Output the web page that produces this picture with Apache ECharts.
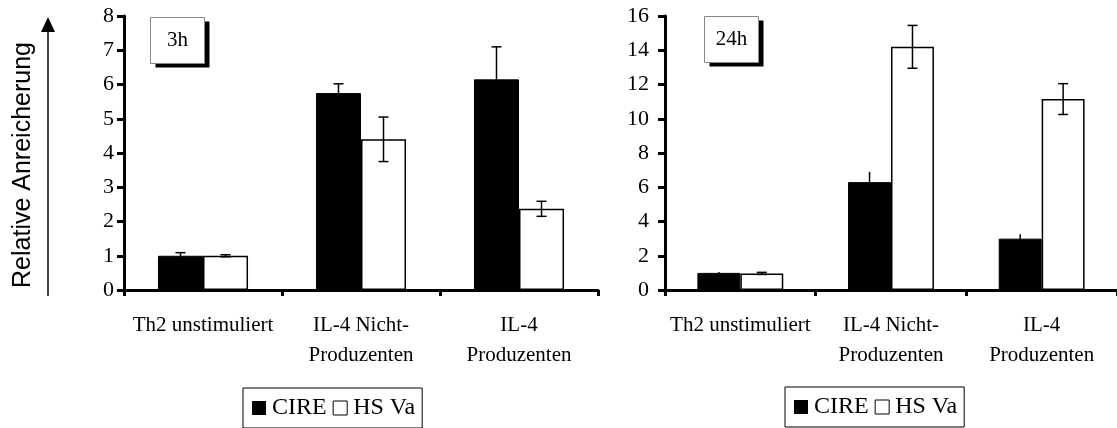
<!DOCTYPE html>
<html>
<head>
<meta charset="utf-8">
<script src="https://cdn.jsdelivr.net/npm/echarts@6/dist/echarts.min.js"></script>
<style>
  html, body { margin: 0; padding: 0; background: #fff; }
  #chart { width: 1117px; height: 428px; }
</style>
</head>
<body>
<div id="chart"></div>
<script>
// Categories shared by both panels
const categories = ['Th2 unstimuliert', 'IL-4 Nicht-\nProduzenten', 'IL-4\nProduzenten'];

// 3h panel: means and error (±)
const cire3h = [1.0, 5.75, 6.15];
const cire3hErr = [0.09, 0.27, 0.95];
const hsva3h = [1.0, 4.4, 2.37];
const hsva3hErr = [0.03, 0.65, 0.22];

// 24h panel: means and error (±)
const cire24h = [1.0, 6.3, 3.0];
const cire24hErr = [0.05, 0.6, 0.25];
const hsva24h = [0.97, 14.2, 11.15];
const hsva24hErr = [0.06, 1.25, 0.9];

// Axis ranges
const yMax3h = 8, yStep3h = 1;
const yMax24h = 16, yStep24h = 2;

const SERIF = 'Liberation Serif';
const SANS = 'Liberation Sans';
const BAR_W = 0.285;   // fraction of the category band per bar

function errData(vals, errs) {
  return vals.map((v, i) => [i, v, errs[i]]);
}

// Error bar drawn at the centre of one of the two bars in a category
function errorBarRenderer(side, capW) {
  return function (params, api) {
    const ci = api.value(0), v = api.value(1), e = api.value(2);
    const band = api.size([1, 0])[0];
    const cx = api.coord([ci, 0])[0] + side * band * BAR_W / 2;
    const yHi = api.coord([ci, v + e])[1];
    const yLo = api.coord([ci, v - e])[1];
    const style = { stroke: '#000', lineWidth: 1.5 };
    const children = [
      { type: 'line', shape: { x1: cx, y1: yHi, x2: cx, y2: yLo }, style }
    ];
    if (capW > 0) {
      children.push({ type: 'line', shape: { x1: cx - capW / 2, y1: yHi, x2: cx + capW / 2, y2: yHi }, style });
      children.push({ type: 'line', shape: { x1: cx - capW / 2, y1: yLo, x2: cx + capW / 2, y2: yLo }, style });
    }
    return { type: 'group', children };
  };
}

function xAxisCfg(gridIndex) {
  return {
    type: 'category', gridIndex, data: categories, boundaryGap: true,
    axisLine: { show: true, lineStyle: { color: '#000', width: 3 } },
    axisTick: { show: true, length: 6, interval: 0, lineStyle: { color: '#000', width: 3 } },
    axisLabel: { interval: 0, margin: 20, color: '#000', fontFamily: SERIF, fontSize: 21, lineHeight: 30 },
    splitLine: { show: false }
  };
}

function yAxisCfg(gridIndex, max, step, margin) {
  return {
    type: 'value', gridIndex, min: 0, max, interval: step,
    axisLine: { show: true, lineStyle: { color: '#000', width: 3 } },
    axisTick: { show: true, length: 7, lineStyle: { color: '#000', width: 3 } },
    axisLabel: { margin, color: '#000', fontFamily: SERIF, fontSize: 22 },
    splitLine: { show: false }
  };
}

function barSeries(name, data, axisIdx, filled) {
  return {
    name, type: 'bar', xAxisIndex: axisIdx, yAxisIndex: axisIdx, data,
    barWidth: (BAR_W * 100) + '%', barGap: '0%',
    itemStyle: filled
      ? { color: '#000', borderColor: '#000', borderWidth: 1 }
      : { color: '#fff', borderColor: '#000', borderWidth: 1.5 },
    emphasis: { disabled: true },
    z: 2
  };
}

function errSeries(name, vals, errs, axisIdx, side, capW) {
  return {
    name, type: 'custom', xAxisIndex: axisIdx, yAxisIndex: axisIdx,
    data: errData(vals, errs), renderItem: errorBarRenderer(side, capW),
    z: 3, silent: true
  };
}

function legendCfg(left, top) {
  return {
    left, top, orient: 'horizontal',
    data: [
      { name: 'CIRE', itemStyle: { color: '#000', borderColor: '#000', borderWidth: 0 } },
      { name: 'HS Va', itemStyle: { color: '#fff', borderColor: '#000', borderWidth: 1 } }
    ],
    icon: 'rect', itemWidth: 14, itemHeight: 14, itemGap: 6,
    borderColor: '#000', borderWidth: 1, padding: [8, 7, 8, 9],
    textStyle: { color: '#000', fontFamily: SERIF, fontSize: 24, padding: [0, 0, 0, 1] },
    selectedMode: false
  };
}

// Panel label box with a solid drop shadow
function labelBox(x, y, w, h, text) {
  return {
    type: 'group', left: x, top: y,
    children: [
      { type: 'rect', shape: { x: 5, y: 4, width: w, height: h }, style: { fill: '#000' } },
      { type: 'rect', shape: { x: 0, y: 0, width: w, height: h }, style: { fill: '#fff', stroke: '#888', lineWidth: 1 } },
      { type: 'text', x: w / 2, y: h / 2, style: { text, fill: '#000', font: '21px "' + SERIF + '"', align: 'center', verticalAlign: 'middle' } }
    ]
  };
}

const chart = echarts.init(document.getElementById('chart'), null, { renderer: 'canvas' });

chart.setOption({
  animation: false,
  backgroundColor: '#fff',
  grid: [
    { left: 124, top: 16, width: 474, height: 274 },
    { left: 665, top: 16, width: 456, height: 274 }
  ],
  xAxis: [xAxisCfg(0), xAxisCfg(1)],
  yAxis: [yAxisCfg(0, yMax3h, yStep3h, 10), yAxisCfg(1, yMax24h, yStep24h, 16)],
  legend: [legendCfg(243, 388), legendCfg(785, 387)],
  series: [
    barSeries('CIRE', cire3h, 0, true),
    barSeries('HS Va', hsva3h, 0, false),
    errSeries('err-cire-3h', cire3h, cire3hErr, 0, -1, 10),
    errSeries('err-hsva-3h', hsva3h, hsva3hErr, 0, 1, 10),
    barSeries('CIRE', cire24h, 1, true),
    barSeries('HS Va', hsva24h, 1, false),
    errSeries('err-cire-24h', cire24h, cire24hErr, 1, -1, 0),
    errSeries('err-hsva-24h', hsva24h, hsva24hErr, 1, 1, 10)
  ],
  graphic: [
    // y-axis title with upward arrow
    {
      type: 'text', x: 23, y: 165, rotation: Math.PI / 2,
      style: { text: 'Relative Anreicherung', fill: '#000', font: '25px "' + SANS + '"', align: 'center', verticalAlign: 'middle' }
    },
    { type: 'line', shape: { x1: 48, y1: 296, x2: 48, y2: 28 }, style: { stroke: '#000', lineWidth: 1.5 } },
    { type: 'polygon', shape: { points: [[41, 32], [55, 32], [48, 17]] }, style: { fill: '#000' } },
    labelBox(150, 17, 54, 46, '3h'),
    labelBox(704, 16, 54, 46, '24h')
  ]
});
</script>
</body>
</html>
